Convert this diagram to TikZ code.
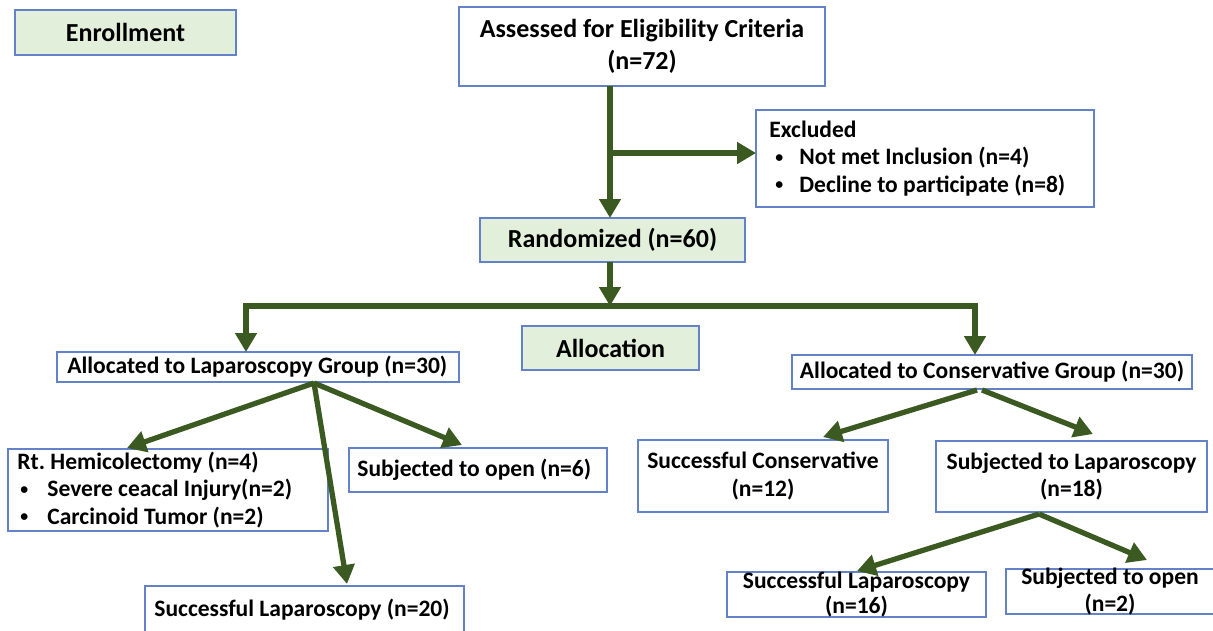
\documentclass[tikz,border=0pt]{standalone}
\usepackage{fontspec}
\setmainfont{Carlito}
\usetikzlibrary{arrows.meta}
\definecolor{bxblue}{RGB}{100,130,200}
\definecolor{lgreen}{RGB}{226,239,218}
\definecolor{dgreen}{RGB}{58,90,34}
\newcommand\smbul{\raisebox{0.12em}{\fontsize{9}{9}\selectfont\textbullet}}
\tikzset{
 box/.style={draw=bxblue, line width=0.7pt, inner sep=0pt, outer sep=0pt, fill=white},
 gbox/.style={box, fill=lgreen},
 txt/.style={font=\fontsize{13.4}{15.8}\selectfont\bfseries, inner sep=0pt, align=center},
 txtl/.style={txt, align=left, anchor=west},
 ttl/.style={font=\fontsize{14.8}{18}\selectfont\bfseries, inner sep=0pt, align=center},
 ln/.style={draw=dgreen, line width=3pt},
 arr/.style={ln, -{Triangle[length=0.38cm,width=0.42cm]}},
}
\begin{document}
\frenchspacing
\begin{tikzpicture}[x=0.02cm,y=-0.02cm]
\useasboundingbox (0,0) rectangle (1213,630);
\clip (0,0) rectangle (1213,630);
\fill[white] (0,0) rectangle (1213,630);
% boxes
\node[gbox, minimum width=4.42cm, minimum height=0.9cm] (enroll) at (125.5,32.5) {};
\node[box, minimum width=7.32cm, minimum height=1.58cm] (assess) at (642,46.5) {};
\node[box, minimum width=6.76cm, minimum height=1.94cm] (excl) at (925,158.5) {};
\node[gbox, minimum width=5.3cm, minimum height=0.88cm] (rand) at (612.5,240) {};
\node[gbox, minimum width=3.54cm, minimum height=0.88cm] (alloc) at (610.5,348) {};
\node[box, minimum width=8.04cm, minimum height=0.6cm] (alap) at (258,367) {};
\node[box, minimum width=8.0cm, minimum height=0.68cm] (acons) at (992,372) {};
\node[box, minimum width=6.4cm, minimum height=1.64cm] (hemi) at (168,490) {};
\node[box, minimum width=5.16cm, minimum height=0.88cm] (open6) at (478,470) {};
\node[box, minimum width=5.0cm, minimum height=1.44cm] (scons) at (763,476) {};
\node[box, minimum width=5.42cm, minimum height=1.42cm] (slap) at (1071.5,476.5) {};
\node[box, minimum width=6.38cm, minimum height=1.08cm] (slap20) at (304.5,613) {};
\node[box, minimum width=5.18cm, minimum height=0.9cm] (slap16) at (856.5,594.5) {};
\node[box, minimum width=4.22cm, minimum height=0.9cm] (open2) at (1111.5,591.5) {};
% texts
\node[ttl] (enrollt) at (enroll.center) {Enrollment};
\node[ttl] (assesst) at (assess.center) {Assessed for Eligibility Criteria\\(n=72)};
\node[txtl] (exclt) at ([xshift=0.26cm]excl.west) {Excluded\\
 \hspace*{0.12cm}\makebox[0.48cm][l]{\smbul}Not met Inclusion (n=4)\\
 \hspace*{0.12cm}\makebox[0.48cm][l]{\smbul}Decline to participate (n=8)};
\node[ttl] (randt) at (rand.center) {Randomized (n=60)};
\node[ttl] (alloct) at (alloc.center) {Allocation};
\node[txtl] (alapt) at ([xshift=0.2cm]alap.west) {Allocated to Laparoscopy Group (n=30)};
\node[txt] (aconst) at (acons.center) {Allocated to Conservative Group (n=30)};
\node[txtl] (hemit) at ([xshift=0.18cm]hemi.west) {Rt. Hemicolectomy (n=4)\\
 \hspace*{0.06cm}\makebox[0.54cm][l]{\smbul}Severe ceacal Injury(n=2)\\
 \hspace*{0.06cm}\makebox[0.54cm][l]{\smbul}Carcinoid Tumor (n=2)};
\node[txtl] (open6t) at ([xshift=0.16cm]open6.west) {Subjected to open (n=6)};
\node[txt] (sconst) at (scons.center) {Successful Conservative\\(n=12)};
\node[txt] (slapt) at (slap.center) {Subjected to Laparoscopy\\(n=18)};
\node[txtl] (slap20t) at ([xshift=0.18cm, yshift=0.06cm]slap20.west) {Successful Laparoscopy (n=20)};
\node[txt, font=\fontsize{13.4}{14.4}\selectfont\bfseries] (slap16t) at ([yshift=0.0cm]slap16.center) {Successful Laparoscopy\\(n=16)};
\node[txt, font=\fontsize{13.4}{15.2}\selectfont\bfseries] (open2t) at ([xshift=-0.03cm]open2.center) {Subjected to open\\(n=2)};
% junctions
\coordinate (j1) at (610,153);
\coordinate (j2) at (610,306);
\coordinate (jl) at (246,306);
\coordinate (jr) at (975,306);
\coordinate (p1) at (314,383);
\coordinate (p2) at (977,390);
\coordinate (p3) at (982,390);
\coordinate (p4) at (1039,514);
\coordinate (t1) at (127,448);
\coordinate (t2) at (462,445);
\coordinate (t3) at (347,584);
\coordinate (t4) at (823,437);
\coordinate (t5) at (1093,434);
\coordinate (t6) at (857,571);
\coordinate (t7) at (1147,560);
% connectors
\draw[ln] (assess.south -| j1) -- (j1);
\draw[arr] (j1) -- (rand.north -| j1);
\draw[arr] (j1) -- (excl.west |- j1);
\draw[arr] (rand.south -| j2) -- (j2);
\draw[ln, line cap=rect] (jl) -- (jr);
\draw[arr] (jl) -- (alap.north -| jl);
\draw[arr] (jr) -- (acons.north -| jr);
\draw[arr] (p1) -- (t1);
\draw[arr] (p1) -- (t2);
\draw[arr] (p1) -- (t3);
\draw[arr] (p2) -- (t4);
\draw[arr] (p3) -- (t5);
\draw[arr] (p4) -- (t6);
\draw[arr] (p4) -- (t7);
\end{tikzpicture}
\end{document}
